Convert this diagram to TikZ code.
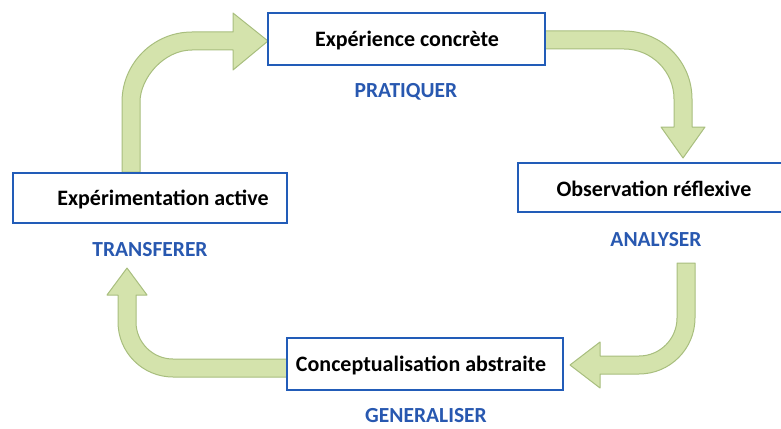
\documentclass[tikz,border=0pt]{standalone}
\usepackage{fontspec}
\setmainfont{Carlito}
\definecolor{boxblue}{RGB}{34,92,184}
\definecolor{labblue}{RGB}{40,88,176}
\definecolor{arrfill}{RGB}{212,227,172}
\definecolor{arredge}{RGB}{168,190,126}
\begin{document}
\begin{tikzpicture}[x=1pt,y=-1pt,
  stagebox/.style={draw=boxblue,line width=2.9pt,fill=white,inner sep=0pt},
  boxtext/.style={font=\fontsize{22}{24}\selectfont\bfseries,text=black,inner sep=0pt},
  steplabel/.style={font=\fontsize{21.5}{24}\selectfont\bfseries,text=labblue,inner sep=0pt},
  fatarrow/.style={fill=arrfill,draw=arredge,line width=1pt,line join=round}]
\useasboundingbox (0,0) rectangle (781,428);
\clip (0,0) rectangle (781,428);
% arrows
\draw[fatarrow] (122,172) -- (122,102) .. controls (122,63.3) and (153.3,32) .. (192,32)
  -- (233,32) -- (233,13) -- (268,41) -- (233,70) -- (233,50) -- (192,50)
  .. controls (163.3,50) and (140,78.7) .. (140,102) -- (140,172) -- cycle;
\draw[fatarrow] (545,31) -- (624,31) .. controls (661.6,31) and (692,61.4) .. (692,99)
  -- (692,127) -- (705,127) -- (683,158) -- (661,127) -- (674,127) -- (674,99)
  .. controls (674,71.4) and (651.6,49) .. (624,49) -- (545,49) -- cycle;
\draw[fatarrow] (677,263) -- (695,263) -- (695,318) .. controls (695,348.9) and (669.9,374) .. (639,374)
  -- (600,374) -- (600,388) -- (570,365) -- (600,342) -- (600,356) -- (639,356)
  .. controls (660,356) and (677,339) .. (677,318) -- cycle;
\draw[fatarrow] (287,359) -- (287,377) -- (173,377) .. controls (142.6,377) and (118,352.4) .. (118,322)
  -- (118,295) -- (107,295) -- (127,268) -- (147,295) -- (136,295) -- (136,322)
  .. controls (136,342.4) and (152.6,359) .. (173,359) -- cycle;
% boxes
\draw[stagebox] (268,13) rectangle (545,65);
\draw[stagebox] (518,163) rectangle (795,212);
\draw[stagebox] (13,173) rectangle (287,223);
\draw[stagebox] (287,338) rectangle (563,390);
% texts
\node[boxtext] (t1) at (407,41) {Expérience concrète};
\node[boxtext] (t2) at (654,189) {Observation réflexive};
\node[boxtext] (t3) at (163,199) {Expérimentation active};
\node[boxtext] (t4) at (421,365) {Conceptualisation abstraite};
\node[steplabel] (l1) at (406,92) {PRATIQUER};
\node[steplabel] (l2) at (656,240) {ANALYSER};
\node[steplabel] (l3) at (150,250) {TRANSFERER};
\node[steplabel] (l4) at (426,416) {GENERALISER};
\end{tikzpicture}
\end{document}
